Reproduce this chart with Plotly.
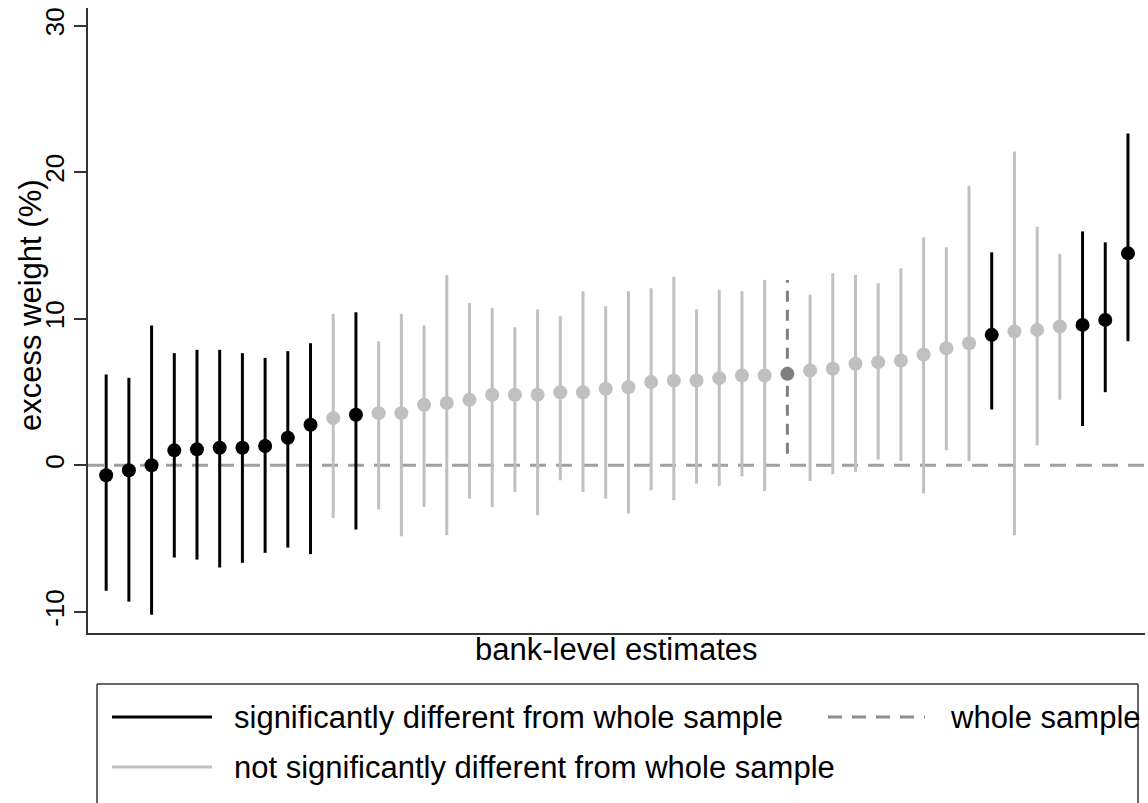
import plotly.graph_objects as go

# ---- data ----
estimate = [-0.68, -0.34, 0.0, 1.02, 1.09, 1.2, 1.2, 1.32, 1.88, 2.77, 3.22, 3.45, 3.56, 3.56, 4.13,
            4.25, 4.47, 4.81, 4.81, 4.81, 4.99, 4.99, 5.22, 5.33, 5.68, 5.79, 5.79, 5.95, 6.13, 6.13,
            6.24, 6.47, 6.59, 6.93, 7.04, 7.15, 7.56, 7.99, 8.33, 8.9, 9.13, 9.24, 9.47, 9.58, 9.92, 14.46]
upper = [6.2, 5.97, 9.54, 7.65, 7.88, 7.88, 7.65, 7.33, 7.79, 8.33, 10.33, 10.44, 8.45, 10.33, 9.54,
         12.99, 11.08, 10.74, 9.42, 10.63, 10.17, 11.87, 10.85, 11.87, 12.08, 12.87, 10.63, 11.97, 11.87, 12.65,
         12.65, 11.65, 13.1, 12.99, 12.42, 13.44, 15.55, 14.87, 19.07, 14.53, 21.41, 16.28, 14.42, 15.96, 15.21, 22.64]
lower = [-8.56, -9.3, -10.2, -6.29, -6.43, -6.97, -6.65, -5.97, -5.61, -6.06, -3.59, -4.38, -3.02, -4.84, -2.84,
         -4.77, -2.27, -2.84, -1.82, -3.41, -1.02, -1.82, -2.27, -3.29, -1.7, -2.38, -1.25, -1.41, -0.75, -1.75,
         0.79, -1.07, -0.61, -0.45, 0.39, 0.3, -1.93, 1.02, 0.3, 3.81, -4.77, 1.36, 4.47, 2.68, 4.99, 8.47]
group = (["sig"] * 10 + ["not", "sig"] + ["not"] * 18 + ["whole"] + ["not"] * 8 + ["sig", "not", "not", "not"]
         + ["sig"] * 3)
bank_index = list(range(1, len(estimate) + 1))
y_ticks = [-10, 0, 10, 20, 30]

FONT = "Liberation Sans, Arial, sans-serif"
colors = {"sig": "#000000", "not": "#c0c0c0", "whole": "#7f7f7f"}

fig = go.Figure()

for g in ["not", "sig", "whole"]:
    xs, ys = [], []
    for i, e, lo, hi, gg in zip(bank_index, estimate, lower, upper, group):
        if gg == g:
            xs += [i, i, None]
            ys += [lo, hi, None]
    fig.add_trace(go.Scatter(
        x=xs, y=ys, mode="lines",
        line=dict(color=colors[g], width=3, dash="11px,8px" if g == "whole" else "solid"),
        hoverinfo="skip", showlegend=False))
    fig.add_trace(go.Scatter(
        x=[i for i, gg in zip(bank_index, group) if gg == g],
        y=[e for e, gg in zip(estimate, group) if gg == g],
        mode="markers", marker=dict(color=colors[g], size=14, line=dict(width=0)),
        showlegend=False))

W, H = 1148, 803
ML, MR, MT, MB = 88, 3, 8, 170
PW, PH = W - ML - MR, H - MT - MB


def px(x):
    return (x - ML) / PW


def py(y):
    return (H - MB - y) / PH


fig.update_layout(
    width=W, height=H, margin=dict(l=ML, r=MR, t=MT, b=MB),
    paper_bgcolor="white", plot_bgcolor="white",
    showlegend=False,
    font=dict(family=FONT, color="#000000"),
)

# zero reference line
fig.add_hline(y=0, line=dict(color="#a0a0a0", width=3, dash="16px,10px"), layer="below")

# legend box (top, left, right borders; bottom is off the page)
box_line = dict(color="#333333", width=1.5)
fig.add_shape(type="line", xref="paper", yref="paper", x0=px(97), x1=px(1138), y0=py(684), y1=py(684),
              line=box_line)
fig.add_shape(type="line", xref="paper", yref="paper", x0=px(97), x1=px(97), y0=py(684), y1=py(803),
              line=box_line)
fig.add_shape(type="line", xref="paper", yref="paper", x0=px(1138), x1=px(1138), y0=py(684), y1=py(803),
              line=box_line)

legend_items = [
    (112, 212, 717, "#000000", "solid", 232, "significantly different from whole sample"),
    (828, 925, 717, "#8c8c8c", "14px,10px", 948, "whole sample"),
    (112, 212, 767, "#c0c0c0", "solid", 232, "not significantly different from whole sample"),
]
for x0, x1, yy, col, dash, tx, label in legend_items:
    fig.add_shape(type="line", xref="paper", yref="paper", x0=px(x0), x1=px(x1), y0=py(yy), y1=py(yy),
                  line=dict(color=col, width=3, dash=dash))
    fig.add_annotation(text=label, xref="paper", yref="paper", x=px(tx), y=py(yy), xanchor="left",
                       yanchor="middle", showarrow=False, font=dict(family=FONT, size=31, color="#000000"))

# axis titles
fig.add_annotation(text="bank-level estimates", xref="paper", yref="paper", x=0.5, y=py(650),
                   xanchor="center", yanchor="middle", showarrow=False,
                   font=dict(family=FONT, size=31, color="#000000"))
fig.add_annotation(text="excess weight (%)", xref="paper", yref="paper", x=px(30), y=py(305),
                   xanchor="center", yanchor="middle", textangle=-90, showarrow=False,
                   font=dict(family=FONT, size=31, color="#000000"))

fig.update_xaxes(range=[0.2, 46.75], showgrid=False, zeroline=False, showticklabels=False, ticks="",
                 showline=True, linecolor="#333333", linewidth=1.5)
fig.update_yaxes(range=[-11.44, 31.2], tickvals=y_ticks, ticktext=[str(v) for v in y_ticks],
                 showgrid=False, zeroline=False, ticks="outside", ticklen=12, tickwidth=1.5, tickcolor="#333333",
                 showline=True, linecolor="#333333", linewidth=1.5, tickangle=-90,
                 tickfont=dict(family=FONT, size=26, color="#000000"))

fig.write_html("out.html")
